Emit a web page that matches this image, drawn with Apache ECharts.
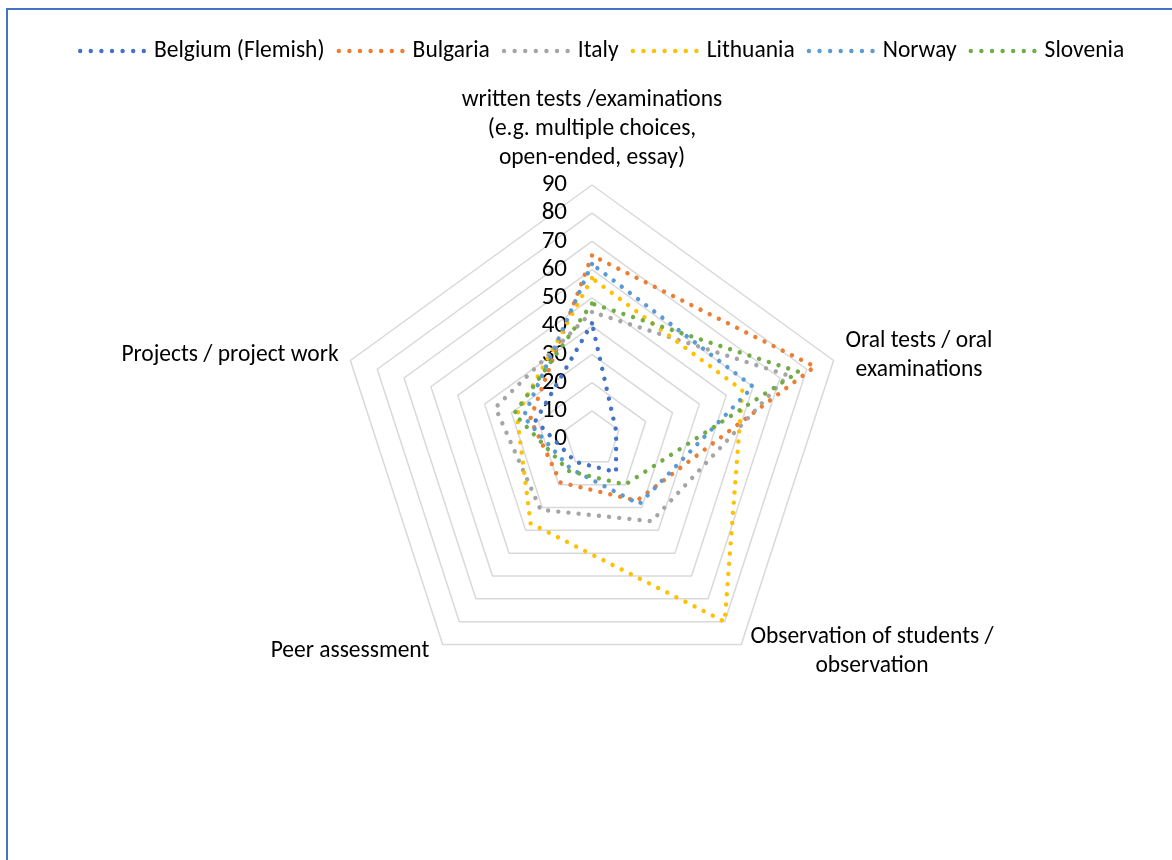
<!DOCTYPE html>
<html>
<head>
<meta charset="utf-8">
<script src="https://cdn.jsdelivr.net/npm/echarts@6/dist/echarts.min.js"></script>
<style>
html,body{margin:0;padding:0;background:#fff;}
#chart{position:absolute;left:0;top:0;width:1172px;height:860px;}
#frame{position:absolute;left:6px;top:8px;width:1180px;height:870px;border-left:2.5px solid #4472C4;border-top:2.5px solid #4472C4;pointer-events:none;}
</style>
</head>
<body>
<div id="chart"></div>
<div id="frame"></div>
<script>
// categories in clockwise order starting at the top
const categories = [
  'written tests /examinations\n(e.g. multiple choices,\nopen-ended, essay)',
  'Oral tests / oral\nexaminations',
  'Observation of students /\nobservation',
  'Peer assessment',
  'Projects / project work'
];
const seriesNames = ['Belgium (Flemish)', 'Bulgaria', 'Italy', 'Lithuania', 'Norway', 'Slovenia'];
const belgium   = [41, 9, 14.5, 10, 21];
const bulgaria  = [65, 83, 27, 19, 23];
const italy     = [45, 73, 36, 31, 36];
const lithuania = [57, 56, 80, 37, 28];
const norway    = [62, 60, 28.5, 13, 25.5];
const slovenia  = [48, 77, 20, 14, 29];
const scaleMax = 90;
const scaleStep = 10;

const colors = ['#4472C4', '#ED7D31', '#A5A5A5', '#FFC000', '#5B9BD5', '#70AD47'];
const allValues = [belgium, bulgaria, italy, lithuania, norway, slovenia];

// ECharts places indicators counter-clockwise; reorder so they run clockwise
const order = [0, 4, 3, 2, 1];
const FONT = 'Carlito, Lato, "Open Sans", sans-serif';
const FS = 23.5;

// legend icon: a row of dots
function dotsPath(n, r, step) {
  let p = '';
  for (let i = 0; i < n; i++) {
    const cx = r + i * step;
    p += 'M' + (cx - r) + ',' + r + 'a' + r + ',' + r + ' 0 1,0 ' + (2 * r) + ',0' + 'a' + r + ',' + r + ' 0 1,0 ' + (-2 * r) + ',0Z';
  }
  return 'path://' + p;
}
const legendIcon = dotsPath(7, 2.2, 10.6);

const nameLayout = [
  {x: 592, y: 86, align: 'center'},
  {x: 919, y: 327, align: 'center'},
  {x: 872, y: 623, align: 'center'},
  {x: 350, y: 637, align: 'center'},
  {x: 230, y: 341, align: 'center'}
];

const chart = echarts.init(document.getElementById('chart'), null, {renderer: 'canvas'});
const option = {
  animation: false,
  color: colors,
  legend: {
    top: 34,
    left: 73,
    itemWidth: 68,
    itemHeight: 5,
    itemGap: 12,
    icon: legendIcon,
    textStyle: {fontFamily: FONT, fontSize: FS, color: '#000', padding: [0, 0, 0, 3]},
    data: seriesNames.map((n, i) => ({name: n, itemStyle: {color: colors[i]}}))
  },
  radar: {
    center: [592, 439],
    radius: 254,
    startAngle: 90,
    shape: 'polygon',
    splitNumber: scaleMax / scaleStep,
    indicator: order.map((k, j) => {
      const ind = {name: categories[k], min: 0, max: scaleMax};
      if (j === 0) ind.axisLabel = {show: true};
      return ind;
    }),
    axisName: {show: false},
    axisLine: {show: false},
    axisTick: {show: false},
    splitArea: {show: false},
    splitLine: {lineStyle: {color: '#D9D9D9', width: 1.5}},
    axisLabel: {show: false, color: '#000', fontFamily: FONT, fontSize: 25, margin: 25, showMinLabel: true, showMaxLabel: true}
  },
  graphic: categories.map((c, i) => ({
    type: 'text',
    x: nameLayout[i].x,
    y: nameLayout[i].y,
    style: {text: c, fontFamily: FONT, fontSize: FS, lineHeight: 29, fill: '#000', align: nameLayout[i].align, verticalAlign: 'top'}
  })),
  series: [{
    type: 'radar',
    symbol: 'none',
    data: seriesNames.map((n, i) => ({
      name: n,
      value: order.map(k => allValues[i][k]),
      lineStyle: {color: colors[i], width: 4.4, type: [0.01, 10.2], cap: 'round'},
      itemStyle: {color: colors[i]}
    }))
  }]
};
chart.setOption(option);
</script>
</body>
</html>
